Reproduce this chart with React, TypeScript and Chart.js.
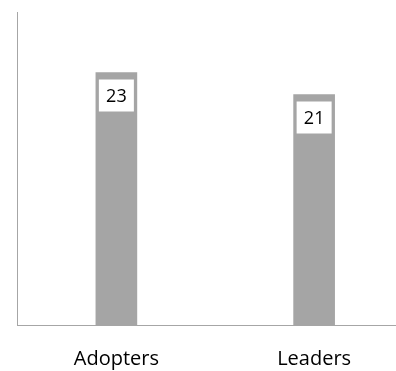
import React, { useEffect, useRef } from "react";
import { Chart, registerables } from "chart.js";

Chart.register(...registerables);

const categories = ["Adopters", "Leaders"];
const values = [23, 21];

const FONT = '"Open Sans", "Noto Sans", sans-serif';

// White boxes holding each bar's value, drawn just below the bar top
const valueBoxes = {
  id: "valueBoxes",
  afterDatasetsDraw(chart: any) {
    const ctx = chart.ctx;
    const meta = chart.getDatasetMeta(0);
    const data = chart.data.datasets[0].data as number[];
    ctx.save();
    meta.data.forEach((bar: any, i: number) => {
      const w = 35;
      const h = 32;
      const x = bar.x - w / 2;
      const y = bar.y + 7;
      ctx.fillStyle = "#ffffff";
      ctx.fillRect(x, y, w, h);
      ctx.fillStyle = "#000000";
      ctx.font = `18px ${FONT}`;
      ctx.textAlign = "center";
      ctx.textBaseline = "middle";
      ctx.fillText(String(data[i]), bar.x, y + h / 2 + 1);
    });
    ctx.restore();
  },
};

export default function App() {
  const canvasRef = useRef<HTMLCanvasElement | null>(null);

  useEffect(() => {
    if (!canvasRef.current) return;
    const chart = new Chart(canvasRef.current, {
      type: "bar",
      data: {
        labels: categories,
        datasets: [
          {
            data: values,
            backgroundColor: "#a5a5a5",
            barThickness: 41,
          },
        ],
      },
      options: {
        responsive: false,
        animation: false,
        layout: { padding: { left: 17, top: 12, right: 0, bottom: 0 } },
        plugins: {
          legend: { display: false },
          tooltip: { enabled: false },
        },
        scales: {
          x: {
            grid: { display: false },
            border: { display: true, color: "#a6a6a6", width: 1 },
            ticks: {
              color: "#000000",
              font: { family: FONT, size: 20 },
              padding: 14,
              maxRotation: 0,
            },
            afterFit(scale: any) {
              scale.height = 45.5;
            },
          },
          y: {
            min: 0,
            max: 28.5,
            grid: { display: false },
            border: { display: true, color: "#a6a6a6", width: 1 },
            ticks: { display: false },
            afterFit(scale: any) {
              scale.width = 0.5;
            },
          },
        },
      },
      plugins: [valueBoxes],
    });
    return () => chart.destroy();
  }, []);

  return (
    <div
      style={{
        position: "absolute",
        left: 0,
        top: 0,
        width: 396,
        height: 371,
        overflow: "hidden",
        background: "#ffffff",
      }}
    >
      <canvas ref={canvasRef} width={413} height={371} style={{ display: "block" }} />
    </div>
  );
}
